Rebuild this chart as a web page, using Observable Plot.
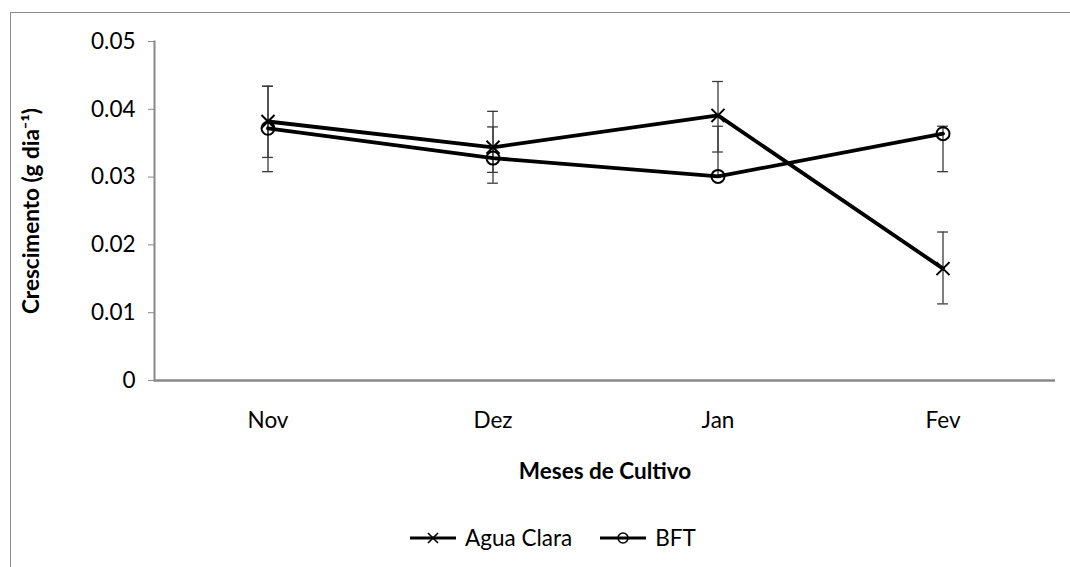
<!DOCTYPE html>
<html>
<head>
<meta charset="utf-8">
<script src="https://cdn.jsdelivr.net/npm/d3@7"></script>
<script src="https://cdn.jsdelivr.net/npm/@observablehq/plot@0.6"></script>
<style>
  html, body { margin: 0; padding: 0; background: #fff; }
  #wrap { position: relative; width: 1070px; height: 567px; overflow: hidden; font-family: Lato, "Open Sans", sans-serif; }
  #border { position: absolute; left: 10px; top: 12px; width: 1100px; height: 600px; border: 1.5px solid #8a8a8a; }
  #chart { position: absolute; left: 0; top: 0; }
  g[aria-label="y-axis label"] text, g[aria-label="x-axis label"] text { font-weight: bold; }
  #legend { position: absolute; top: 524px; left: 408px; display: flex; align-items: center; font-size: 22.5px; color: #000; }
  #legend .item { display: flex; align-items: center; margin-right: 26px; }
  #legend svg { margin-right: 7px; }
</style>
</head>
<body>
<div id="wrap">
  <div id="border"></div>
  <div id="chart"></div>
  <div id="legend"></div>
</div>
<script>
// Months of culture on the x axis
const months = ["Nov", "Dez", "Jan", "Fev"];
const seriesNames = ["Agua Clara", "BFT"];

// Growth (g/day) per month, with the ends of each error bar
const aguaClara = [0.0382, 0.0344, 0.0391, 0.0165];
const aguaClaraHi = [0.0434, 0.0397, 0.0441, 0.0219];
const aguaClaraLo = [0.0329, 0.0291, 0.0337, 0.0113];

const bft = [0.0372, 0.0328, 0.0301, 0.0364];
const bftHi = [0.0434, 0.0374, 0.0375, 0.0375];
const bftLo = [0.0308, 0.0307, 0.0301, 0.0308];

const yTicks = [0, 0.01, 0.02, 0.03, 0.04, 0.05];

const rows = [];
months.forEach((m, i) => {
  rows.push({month: m, series: seriesNames[0], value: aguaClara[i], hi: aguaClaraHi[i], lo: aguaClaraLo[i]});
  rows.push({month: m, series: seriesNames[1], value: bft[i], hi: bftHi[i], lo: bftLo[i]});
});
const rowsA = rows.filter(d => d.series === seriesNames[0]);
const rowsB = rows.filter(d => d.series === seriesNames[1]);

const axisGray = "#888888";
const barGray = "#3a3a3a";
const fontSize = 22.5;

const W = 1070, ML = 154, MR = 15;
const bandwidth = (W - ML - MR) / months.length;
const capInset = (bandwidth - 11) / 2;   // error-bar caps about 11px wide

const chart = Plot.plot({
  width: W,
  height: 567,
  marginLeft: ML,
  marginRight: MR,
  marginTop: 41,
  marginBottom: 187,
  style: {fontFamily: "Lato, 'Open Sans', sans-serif", fontSize: fontSize + "px", color: "#000", background: "transparent", overflow: "visible"},
  x: {type: "band", domain: months, padding: 0},
  y: {domain: [0, 0.05]},
  marks: [
    Plot.axisY({
      ticks: yTicks,
      tickFormat: d => d === 0 ? "0" : String(d),
      tickSize: 6,
      tickPadding: 13,
      stroke: axisGray,
      fontSize,
      label: "Crescimento (g dia⁻¹)",
      labelAnchor: "center",
      labelArrow: "none",
      labelOffset: 131
    }),
    Plot.axisX({
      tickSize: 0,
      tickPadding: 32,
      fontSize,
      label: "Meses de Cultivo",
      labelAnchor: "center",
      labelArrow: "none",
      labelOffset: 98
    }),
    Plot.frame({anchor: "left", stroke: axisGray, strokeWidth: 2}),
    Plot.ruleY([0], {stroke: axisGray, strokeWidth: 2.5}),
    // error bars
    Plot.ruleX(rows, {x: "month", y1: "lo", y2: "hi", stroke: barGray, strokeWidth: 1.3}),
    Plot.tickY(rows, {x: "month", y: "hi", stroke: barGray, strokeWidth: 1.3, insetLeft: capInset, insetRight: capInset}),
    Plot.tickY(rows, {x: "month", y: "lo", stroke: barGray, strokeWidth: 1.3, insetLeft: capInset, insetRight: capInset}),
    // series lines
    Plot.line(rows, {x: "month", y: "value", z: "series", stroke: "#000", strokeWidth: 3.8}),
    Plot.dot(rowsA, {x: "month", y: "value", symbol: "times", r: 6, stroke: "#000", strokeWidth: 2}),
    Plot.dot(rowsB, {x: "month", y: "value", symbol: "circle", r: 6.5, stroke: "#000", strokeWidth: 2, fill: "none"})
  ]
});
document.getElementById("chart").appendChild(chart);

// Legend below the plot
const legend = d3.select("#legend");
const symbols = {"Agua Clara": "times", "BFT": "circle"};
seriesNames.forEach(name => {
  const item = legend.append("div").attr("class", "item");
  const s = item.append("svg").attr("width", 50).attr("height", 26);
  s.append("line").attr("x1", 2).attr("x2", 48).attr("y1", 13).attr("y2", 13).attr("stroke", "#000").attr("stroke-width", 3);
  if (symbols[name] === "times") {
    s.append("path").attr("d", "M20,8L30,18M30,8L20,18").attr("stroke", "#000").attr("stroke-width", 1.6);
  } else {
    s.append("circle").attr("cx", 25).attr("cy", 13).attr("r", 5).attr("fill", "none").attr("stroke", "#000").attr("stroke-width", 1.6);
  }
  item.append("span").text(name);
});
</script>
</body>
</html>
